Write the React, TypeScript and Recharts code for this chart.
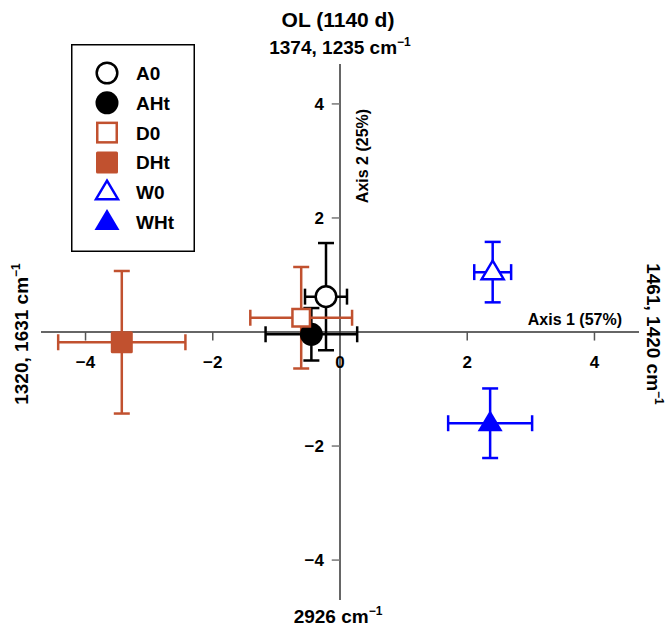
import React from 'react';
import {
  ScatterChart,
  Scatter,
  XAxis,
  YAxis,
  ErrorBar,
  ReferenceLine,
  ReferenceDot,
  Legend,
} from 'recharts';

const seriesNames = ['A0', 'AHt', 'D0', 'DHt', 'W0', 'WHt'];
const axis1Values = [-0.22, -0.45, -0.61, -3.43, 2.4, 2.36];
const axis2Values = [0.62, -0.04, 0.25, -0.18, 1.05, -1.6];
const axis1Errors = [0.33, 0.72, 0.8, 1.0, 0.29, 0.66];
const axis2Errors = [0.94, 0.46, 0.89, 1.25, 0.53, 0.61];
const seriesColors = ['#000000', '#000000', '#c1512f', '#c1512f', '#0000ff', '#0000ff'];
const seriesKinds = ['circle', 'circle', 'square', 'square', 'triangle', 'triangle'];
const seriesFilled = [false, true, false, true, false, true];

const xTicks = [-4, -2, 0, 2, 4];
const xTickLabels = ['\u22124', '\u22122', '0', '2', '4'];
const yTicks = [-4, -2, 2, 4];
const yTickLabels = ['\u22124', '\u22122', '2', '4'];

const FONT = '"Liberation Sans", Arial, Helvetica, sans-serif';
const DOMAIN: [number, number] = [-4.7, 4.7];

function Marker({ kind, color, filled, cx, cy, big }: any) {
  const sw = 2.5;
  const fill = filled ? color : '#ffffff';
  if (kind === 'circle') {
    const r = filled ? 11.5 : 10.3;
    return <circle cx={cx} cy={cy} r={filled ? r : r} fill={fill} stroke={color} strokeWidth={filled ? 0 : sw} />;
  }
  if (kind === 'square') {
    const s = filled ? 22 : big ? 19.5 : 17.5;
    if (filled) {
      return <rect x={cx - s / 2} y={cy - s / 2} width={s} height={s} rx={1.5} fill={fill} />;
    }
    return <rect x={cx - s / 2} y={cy - s / 2} width={s} height={s} fill={fill} stroke={color} strokeWidth={sw} />;
  }
  const w = filled ? 25 : 22;
  const h = filled ? 21 : 18.5;
  const top = cy - h * 0.62;
  const bot = cy + h * 0.38;
  const d = `M${cx},${top} L${cx + w / 2},${bot} L${cx - w / 2},${bot} Z`;
  return (
    <path
      d={d}
      fill={fill}
      stroke={color}
      strokeWidth={filled ? 0 : sw}
      strokeLinejoin="miter"
    />
  );
}

const makeShape = (i: number) => (props: any) => (
  <Marker kind={seriesKinds[i]} color={seriesColors[i]} filled={seriesFilled[i]} cx={props.cx} cy={props.cy} />
);

const seriesData = seriesNames.map((name, i) => [
  { x: axis1Values[i], y: axis2Values[i], ex: axis1Errors[i], ey: axis2Errors[i] },
]);

const LegendBox = () => (
  <svg width={124} height={208} style={{ display: 'block' }}>
    <rect x={0.75} y={0.75} width={122.5} height={206.5} fill="#ffffff" stroke="#000" strokeWidth={1.5} />
    {seriesNames.map((n, i) => {
      const cy = 29 + i * 29.8;
      return (
        <g key={n}>
          <Marker kind={seriesKinds[i]} color={seriesColors[i]} filled={seriesFilled[i]} cx={36} cy={cy} big />
          <text x={65} y={cy + 7} fontSize={19} fontWeight="bold" fontFamily={FONT} fill="#000">
            {n}
          </text>
        </g>
      );
    })}
  </svg>
);

const xTickLabelShape = (label: string) => (p: any) => (
  <text x={p.cx} y={p.cy + 36} textAnchor="middle" fontSize={17} fontWeight="bold" fontFamily={FONT} fill="#000">
    {label}
  </text>
);

const yTickLabelShape = (label: string) => (p: any) => (
  <text x={p.cx - 16} y={p.cy + 6} textAnchor="end" fontSize={17} fontWeight="bold" fontFamily={FONT} fill="#000">
    {label}
  </text>
);

const Sup = () => (
  <tspan fontSize={12} dy={-8}>
    {'\u22121'}
  </tspan>
);

export default function App() {
  return (
    <div style={{ position: 'absolute', left: 0, top: 0, width: 665, height: 627, background: '#fff' }}>
      <ScatterChart width={665} height={627} margin={{ top: 64, right: 26, bottom: 27, left: 41 }}>
        <XAxis type="number" dataKey="x" domain={DOMAIN} hide />
        <YAxis type="number" dataKey="y" domain={DOMAIN} hide />
        <ReferenceLine x={0} stroke="#333" strokeWidth={1.5} />
        <ReferenceLine y={0} stroke="#333" strokeWidth={1.5} />
        {xTicks.map((t) =>
          t === 0 ? null : (
            <ReferenceLine
              key={'xt' + t}
              segment={[
                { x: t, y: 0 },
                { x: t, y: -0.15 },
              ]}
              stroke="#555"
              strokeWidth={1.5}
            />
          )
        )}
        {yTicks.map((t) => (
          <ReferenceLine
            key={'yt' + t}
            segment={[
              { x: -0.13, y: t },
              { x: 0, y: t },
            ]}
            stroke="#777"
            strokeWidth={1.5}
          />
        ))}
        {xTicks.map((t, i) => (
          <ReferenceDot key={'xl' + t} x={t} y={0} r={0} shape={xTickLabelShape(xTickLabels[i])} />
        ))}
        {yTicks.map((t, i) => (
          <ReferenceDot key={'yl' + t} x={0} y={t} r={0} shape={yTickLabelShape(yTickLabels[i])} />
        ))}
        {seriesNames.map((name, i) => (
          <Scatter
            key={name}
            name={name}
            data={seriesData[i]}
            fill={seriesColors[i]}
            shape={makeShape(i)}
            isAnimationActive={false}
          >
            <ErrorBar dataKey="ex" direction="x" width={8} stroke={seriesColors[i]} strokeWidth={2.5} />
            <ErrorBar dataKey="ey" direction="y" width={8} stroke={seriesColors[i]} strokeWidth={2.5} />
          </Scatter>
        ))}
        <Legend
          layout="vertical"
          align="center"
          verticalAlign="middle"
          content={() => <LegendBox />}
          wrapperStyle={{ left: 71, top: 44, width: 124, height: 208 }}
        />
      </ScatterChart>
      <svg
        width={665}
        height={627}
        style={{ position: 'absolute', left: 0, top: 0, pointerEvents: 'none' }}
        fontFamily={FONT}
        fontWeight="bold"
      >
        <text x={338} y={27} textAnchor="middle" fontSize={21} fill="#000">
          OL (1140 d)
        </text>
        <text x={340} y={54} textAnchor="middle" fontSize={19} fill="#000">
          1374, 1235 cm<Sup />
        </text>
        <text x={338} y={623} textAnchor="middle" fontSize={19} fill="#000">
          2926 cm<Sup />
        </text>
        <text transform="translate(28,334) rotate(-90)" textAnchor="middle" fontSize={19} fill="#000">
          1320, 1631 cm<Sup />
        </text>
        <text transform="translate(647,334) rotate(90)" textAnchor="middle" fontSize={19} fill="#000">
          1461, 1420 cm<Sup />
        </text>
        <text x={622} y={325} textAnchor="end" fontSize={16} fill="#000">
          Axis 1 (57%)
        </text>
        <text transform="translate(368,156) rotate(-90)" textAnchor="middle" fontSize={16} fill="#000">
          Axis 2 (25%)
        </text>
      </svg>
    </div>
  );
}
